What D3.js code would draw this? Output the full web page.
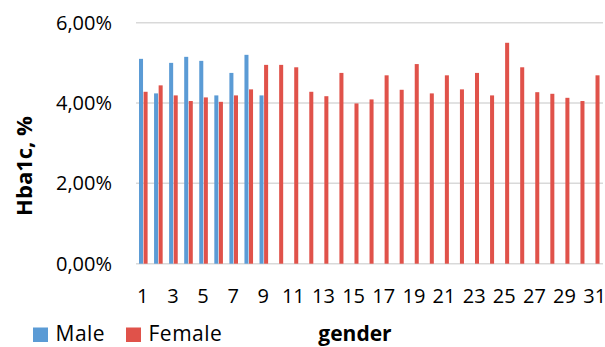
<!DOCTYPE html>
<html>
<head>
<meta charset="utf-8">
<script src="https://cdn.jsdelivr.net/npm/d3@7"></script>
<style>
  body { margin: 0; background: #fff; }
  text { font-family: "Open Sans", sans-serif; fill: #000; }
</style>
</head>
<body>
<svg id="chart" width="605" height="347"></svg>
<script>
// data (values in %)
const categories = d3.range(1, 32).map(String);
const maleValues = [5.10, 4.24, 5.00, 5.15, 5.05, 4.19, 4.75, 5.20, 4.19];
const femaleValues = [4.28, 4.44, 4.19, 4.05, 4.14, 4.03, 4.19, 4.34, 4.95, 4.95,
                      4.89, 4.28, 4.17, 4.75, 3.99, 4.09, 4.69, 4.33, 4.97, 4.24,
                      4.69, 4.34, 4.75, 4.19, 5.50, 4.89, 4.27, 4.23, 4.13, 4.05, 4.69];
const yTicks = [0, 2, 4, 6];
const seriesNames = ["Male", "Female"];
const colors = ["#5B9BD5", "#E0524A"];

const svg = d3.select("#chart");

const xScale = d3.scaleBand()
    .domain(categories)
    .range([136, 603])
    .padding(0);

const x1 = d3.scaleBand()
    .domain(seriesNames)
    .range([3, 11.6])
    .paddingInner(0.12);

const yScale = d3.scaleLinear()
    .domain([0, 6])
    .range([263.7, 22.7]);

// gridlines
svg.append("g")
    .selectAll("line")
    .data(yTicks)
    .enter()
    .append("line")
    .attr("x1", 136)
    .attr("x2", 603)
    .attr("y1", d => yScale(d))
    .attr("y2", d => yScale(d))
    .attr("stroke", "#d9d9d9")
    .attr("stroke-width", 1.5);

// y tick labels
const fmt = d => d.toFixed(2).replace(".", ",") + "%";
svg.append("g")
    .selectAll("text")
    .data(yTicks)
    .enter()
    .append("text")
    .attr("x", 112)
    .attr("y", d => yScale(d) + 7)
    .attr("text-anchor", "end")
    .style("font-size", "20px")
    .text(fmt);

// bars
const series = [maleValues, femaleValues];
series.forEach((vals, s) => {
    svg.append("g")
        .selectAll("rect")
        .data(vals)
        .enter()
        .append("rect")
        .attr("x", (d, i) => xScale(categories[i]) + x1(seriesNames[s]))
        .attr("width", x1.bandwidth())
        .attr("y", d => yScale(d))
        .attr("height", d => yScale(0) - yScale(d))
        .attr("fill", colors[s]);
});

// x tick labels (every other category)
svg.append("g")
    .selectAll("text")
    .data(categories.filter((c, i) => i % 2 === 0))
    .enter()
    .append("text")
    .attr("x", d => xScale(d) + xScale.bandwidth() / 2 - 0.8)
    .attr("y", 302.5)
    .attr("text-anchor", "middle")
    .style("font-size", "20px")
    .text(d => d);

// axis titles
svg.append("text")
    .attr("transform", "translate(32,166) rotate(-90)")
    .attr("text-anchor", "middle")
    .style("font-size", "22px")
    .style("font-weight", "bold")
    .text("Hba1c, %");

svg.append("text")
    .attr("x", 355)
    .attr("y", 341)
    .attr("text-anchor", "middle")
    .style("font-size", "21px")
    .style("font-weight", "bold")
    .text("gender");

// legend
const legendX = [33, 126];
const legend = svg.append("g")
    .selectAll("g")
    .data(seriesNames)
    .enter()
    .append("g");
legend.append("rect")
    .attr("x", (d, i) => legendX[i])
    .attr("y", 327.5)
    .attr("width", 15)
    .attr("height", 14.5)
    .attr("fill", (d, i) => colors[i]);
legend.append("text")
    .attr("x", (d, i) => legendX[i] + 22.5)
    .attr("y", 341)
    .style("font-size", "21px")
    .style("letter-spacing", "0.5px")
    .text(d => d);
</script>
</body>
</html>
